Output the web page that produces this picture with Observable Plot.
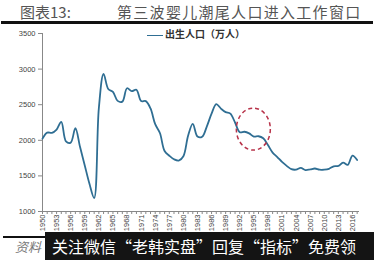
<!DOCTYPE html>
<html><head><meta charset="utf-8">
<script src="https://cdn.jsdelivr.net/npm/d3@7"></script>
<script src="https://cdn.jsdelivr.net/npm/@observablehq/plot@0.6"></script>
<style>
body{margin:0;background:#fff;}
#wrap{position:relative;width:374px;height:260px;overflow:hidden;background:#fff;font-family:"Noto Sans CJK SC",sans-serif;}
#wrap svg{position:absolute;left:0;top:0;}
.t1{position:absolute;left:20px;top:3px;font-size:15px;color:#555;line-height:18px;white-space:nowrap;}
.t2{position:absolute;left:117px;top:3px;font-size:15px;color:#555;letter-spacing:1.3px;line-height:18px;white-space:nowrap;}
.rule{position:absolute;left:1px;top:21px;width:372px;height:3px;background:#111;}
.legend{position:absolute;left:147px;top:27px;font-size:10px;font-weight:bold;color:#333;line-height:14px;white-space:nowrap;}
.legend span.ln{display:inline-block;width:16px;height:0;border-top:1.5px solid #2f6e93;vertical-align:middle;margin-right:2px;}
.src{position:absolute;left:15px;top:238px;font-size:13px;font-style:italic;color:#777;line-height:18px;}
.srcline{position:absolute;left:3px;top:236px;width:42px;height:2px;background:#111;}
.banner{position:absolute;left:45px;top:232px;width:329px;height:28px;background:#141414;color:#fff;font-size:16px;line-height:28px;white-space:nowrap;padding-left:7px;box-sizing:border-box;}
</style></head>
<body><div id="wrap"></div>
<script>
const years = d3.range(1950, 2018);
const births = [2023,2107,2105,2151,2260,1984,1967,2169,1905,1647,1389,1188,2451,2934,2721,2679,2554,2543,2731,2690,2710,2551,2550,2447,2226,2102,1849,1783,1733,1715,1776,2064,2230,2052,2050,2196,2374,2508,2445,2396,2374,2250,2113,2120,2098,2052,2057,2028,1934,1827,1765,1696,1641,1594,1588,1612,1581,1591,1604,1587,1588,1600,1635,1640,1687,1655,1786,1723];
const yTicks = [1000,1500,2000,2500,3000,3500];
const xLabelYears = d3.range(1950, 2017, 3);
const annotYear = [1995];
const annotValue = [2150];
const data = years.map((y,i)=>({year:y, births:births[i]}));
const annot = annotYear.map((y,i)=>({year:y, value:annotValue[i]}));

const chart = Plot.plot({
  width: 374, height: 260,
  marginTop: 33, marginBottom: 49, marginLeft: 42, marginRight: 15,
  style: {fontFamily: "Liberation Sans, Arial, sans-serif", background: "transparent", overflow: "visible"},
  x: {domain: [1950, 2017.5], axis: null},
  y: {domain: [1000, 3500], axis: null},
  marks: [
    Plot.ruleY([1000], {stroke: "#888", strokeWidth: 1}),
    Plot.ruleX([1950], {y1: 1000, y2: 3500, stroke: "#888", strokeWidth: 1}),
    Plot.axisY({ticks: yTicks, tickSize: 4, tickPadding: 3, tickFormat: d => String(d), fontSize: 7.5, stroke: "#888", color: "#444", label: null}),
    Plot.axisX({ticks: years, tickSize: 3, tickFormat: () => "", stroke: "#888", label: null}),
    Plot.axisX({ticks: xLabelYears, tickSize: 0, tickPadding: 3, tickRotate: -90, tickFormat: d => String(d), fontSize: 7.5, color: "#444", label: null}),
    Plot.line(data, {x: "year", y: "births", curve: "catmull-rom", stroke: "#2f6e93", strokeWidth: 1.8}),
    Plot.dot(annot, {x: "year", y: "value", r: 17, render(index, scales, values, dims, ctx, next) {
      const g = d3.create("svg:g");
      for (const i of index) {
        g.append("ellipse").attr("cx", values.x[i]).attr("cy", values.y[i])
          .attr("rx", 17).attr("ry", 21).attr("fill", "none")
          .attr("stroke", "#b8334a").attr("stroke-width", 1.5).attr("stroke-dasharray", "4,3");
      }
      return g.node();
    }})
  ]
});
const wrap = document.getElementById("wrap");
wrap.appendChild(chart);
wrap.insertAdjacentHTML("beforeend", `
<div class="t1">图表13:</div>
<div class="t2">第三波婴儿潮尾人口进入工作窗口</div>
<div class="rule"></div>
<div class="legend"><span class="ln"></span>出生人口（万人）</div>
<div class="srcline"></div>
<div class="src">资料</div>
<div class="banner">关注微信“老韩实盘”回复“指标”免费领</div>`);
</script></body></html>
